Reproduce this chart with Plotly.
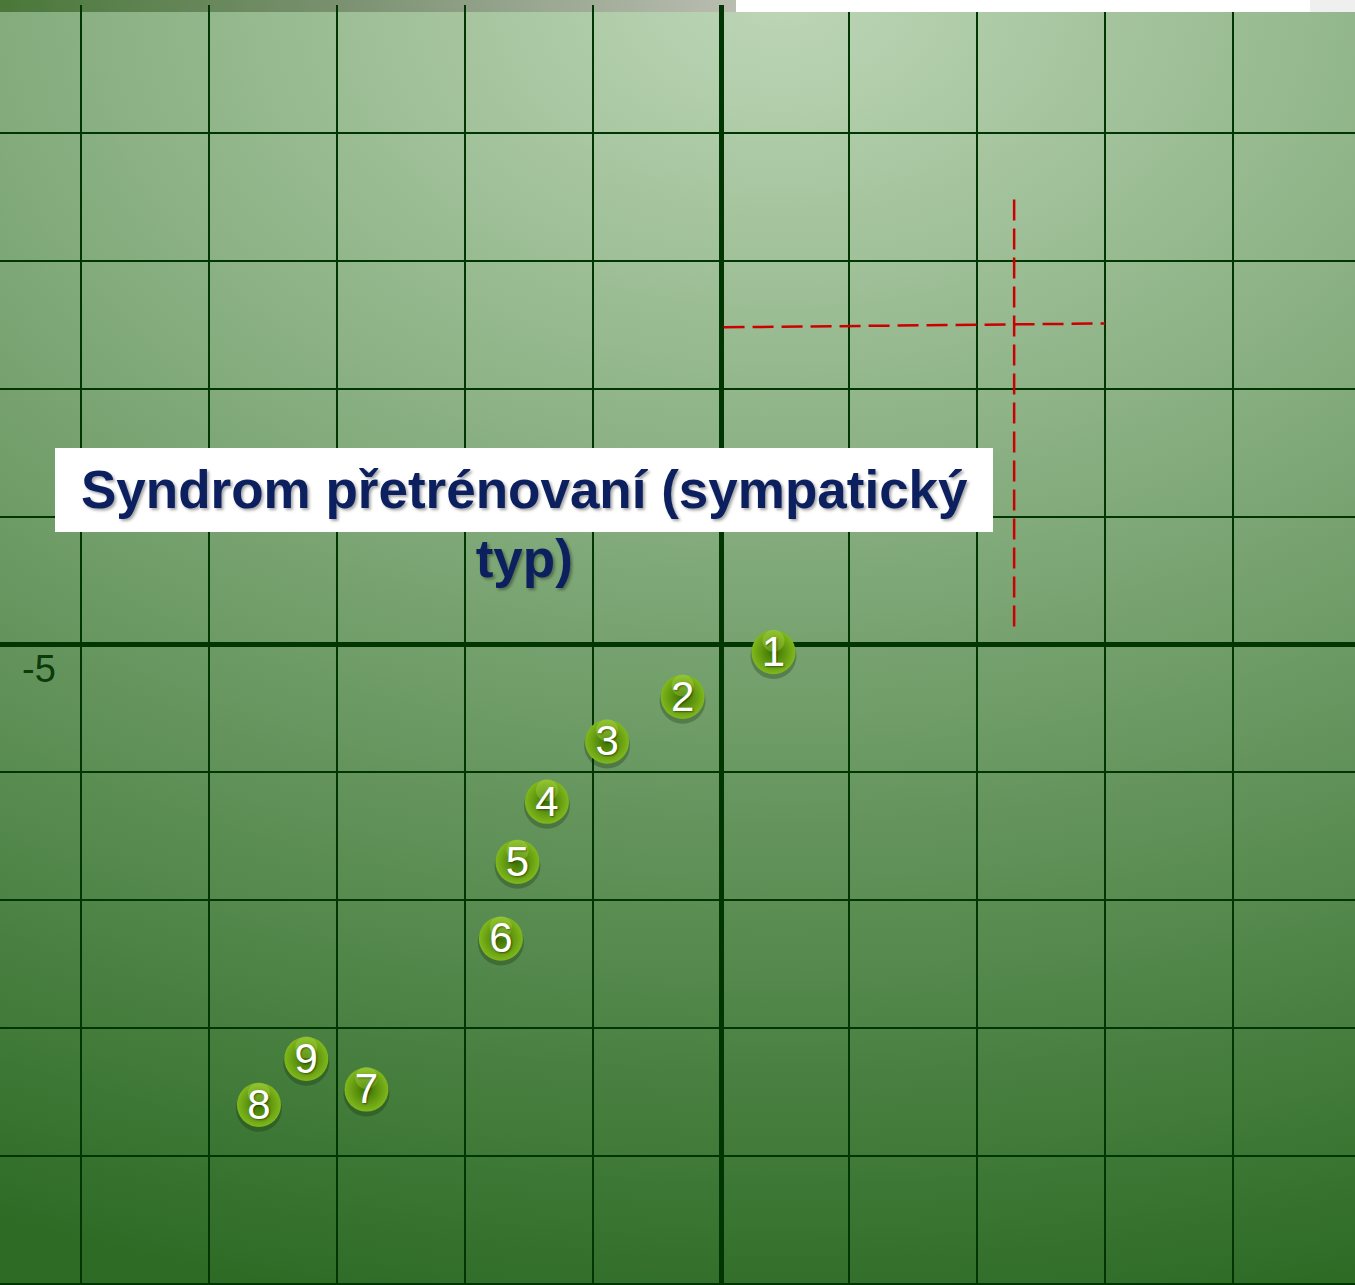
"""
Overtraining syndrome chart - numbered points on a green grid.
"""

import base64
import plotly.graph_objects as go

# ---- data -------------------------------------------------------------
POINT_LABELS = ['1', '2', '3', '4', '5', '6', '7', '8', '9']
POINT_X = [0.41, -0.30, -0.89, -1.36, -1.59, -1.72, -2.77, -3.61, -3.24]
POINT_Y = [-0.06, -0.41, -0.76, -1.23, -1.70, -2.30, -3.48, -3.60, -3.24]

# red dashed reference cross
REF_H_X = [0.02, 3.0]
REF_H_Y = [2.48, 2.51]
REF_V_X = [2.29, 2.29]
REF_V_Y = [3.48, 0.10]

GRID_TICKS = [-5, -4, -3, -2, -1, 0, 1, 2, 3, 4, 5]
TICK_LABEL = '-5'
TITLE = 'Syndrom přetrénovaní (sympatický<br>typ)'

W, H = 1355, 1285

COLORS = {
    'grid': '#013501',
    'ball': '#80b81c',
    'ball_edge': '#3a7000',
    'red': '#cc0000',
    'title': '#0c1f5e',
}


def background_uri(w, h):
    """Radial green gradient plus the thin strip along the top edge."""
    svg = f'''<svg xmlns="http://www.w3.org/2000/svg" width="{w}" height="{h}" viewBox="0 0 {w} {h}" preserveAspectRatio="none">
<defs>
<radialGradient id="bg" gradientUnits="userSpaceOnUse" cx="0" cy="0" r="1" gradientTransform="translate(780 0) scale(1950 1330)">
<stop offset="0" stop-color="#bdd6b6"/>
<stop offset="1" stop-color="#2e6c26"/>
</radialGradient>
<linearGradient id="band" x1="0" x2="1" y1="0" y2="0">
<stop offset="0" stop-color="#4a7839"/>
<stop offset="0.45" stop-color="#79906f"/>
<stop offset="1" stop-color="#b9bdb1"/>
</linearGradient>
</defs>
<rect width="{w}" height="{h}" fill="url(#bg)"/>
<rect width="736" height="12" fill="url(#band)"/>
<rect x="1310" width="45" height="12" fill="#efefef"/>
</svg>'''
    return 'data:image/svg+xml;base64,' + base64.b64encode(svg.encode('utf-8')).decode('ascii')


fig = go.Figure()

# red dashed cross
for xs, ys in ((REF_H_X, REF_H_Y), (REF_V_X, REF_V_Y)):
    fig.add_trace(go.Scatter(
        x=xs, y=ys, mode='lines',
        line=dict(color=COLORS['red'], width=2.5, dash='21px,8px'),
        hoverinfo='skip', showlegend=False
    ))

# soft shadow under the balls
fig.add_trace(go.Scatter(
    x=POINT_X, y=[v - 0.03 for v in POINT_Y], mode='markers',
    marker=dict(size=46, color='rgba(15,40,5,0.28)', line=dict(width=0)),
    hoverinfo='skip', showlegend=False
))

# the balls
fig.add_trace(go.Scatter(
    x=POINT_X, y=POINT_Y, mode='markers',
    marker=dict(size=44, color=COLORS['ball'],
                gradient=dict(type='radial', color=COLORS['ball_edge']),
                line=dict(width=0)),
    hoverinfo='skip', showlegend=False
))

# glossy highlight near the top of each ball
fig.add_trace(go.Scatter(
    x=POINT_X, y=[v + 0.09 for v in POINT_Y], mode='markers',
    marker=dict(size=22, color='rgba(190,230,90,0.30)', line=dict(width=0)),
    hoverinfo='skip', showlegend=False
))

# numbers
fig.add_trace(go.Scatter(
    x=POINT_X, y=[v - 0.025 for v in POINT_Y], mode='text', text=POINT_LABELS,
    textposition='middle center',
    textfont=dict(family='Liberation Sans, Arial, sans-serif', size=42, color='white',
                  shadow='1px 1px 2px rgba(0,0,0,0.45)'),
    hovertext=[f'Bod {t}' for t in POINT_LABELS], hoverinfo='text', showlegend=False
))

axis_common = dict(
    tickmode='array', tickvals=GRID_TICKS, showticklabels=False, ticks='',
    showgrid=True, gridcolor=COLORS['grid'], gridwidth=2,
    zeroline=True, zerolinecolor=COLORS['grid'], zerolinewidth=5,
    showline=False, fixedrange=True
)

fig.update_layout(
    width=W, height=H,
    margin=dict(l=0, r=0, t=0, b=0),
    paper_bgcolor='#6f9c63',
    plot_bgcolor='rgba(0,0,0,0)',
    xaxis=dict(range=[-5.633, 4.953], domain=[0, 1], **axis_common),
    yaxis=dict(range=[-5.008, 5.004], domain=[0, 1 - 4.5 / H], **axis_common),
    images=[dict(source=background_uri(W, H), xref='paper', yref='paper',
                 x=0, y=1, sizex=1, sizey=1, xanchor='left', yanchor='top',
                 sizing='stretch', layer='below')],
    shapes=[
        # white box behind the first title line
        dict(type='rect', xref='paper', yref='paper',
             x0=55 / W, x1=993 / W, y0=1 - 532 / H, y1=1 - 448 / H,
             fillcolor='white', line=dict(width=0), layer='above'),
        # white box along the top edge
        dict(type='rect', xref='paper', yref='paper',
             x0=736 / W, x1=1310 / W, y0=1 - 12 / H, y1=1,
             fillcolor='white', line=dict(width=0), layer='above'),
    ],
    annotations=[
        dict(text=TITLE, xref='paper', yref='paper', x=524 / W, y=1 - 524 / H,
             xanchor='center', yanchor='middle', showarrow=False, align='center',
             font=dict(family='Liberation Sans, Arial, sans-serif', size=53,
                       color=COLORS['title'], weight='bold',
                       shadow='2px 2px 3px rgba(0,0,0,0.35)')),
        dict(text=TICK_LABEL, xref='paper', yref='paper', x=58 / W, y=1 - 669 / H,
             xanchor='right', yanchor='middle', showarrow=False,
             font=dict(family='Liberation Sans, Arial, sans-serif', size=38,
                       color='#0b3a0b')),
    ],
)

# drop the default page margin so the figure fills the window
fig.write_html('out.html', config={'displayModeBar': False},
               post_script="document.body.style.margin = '0';")
